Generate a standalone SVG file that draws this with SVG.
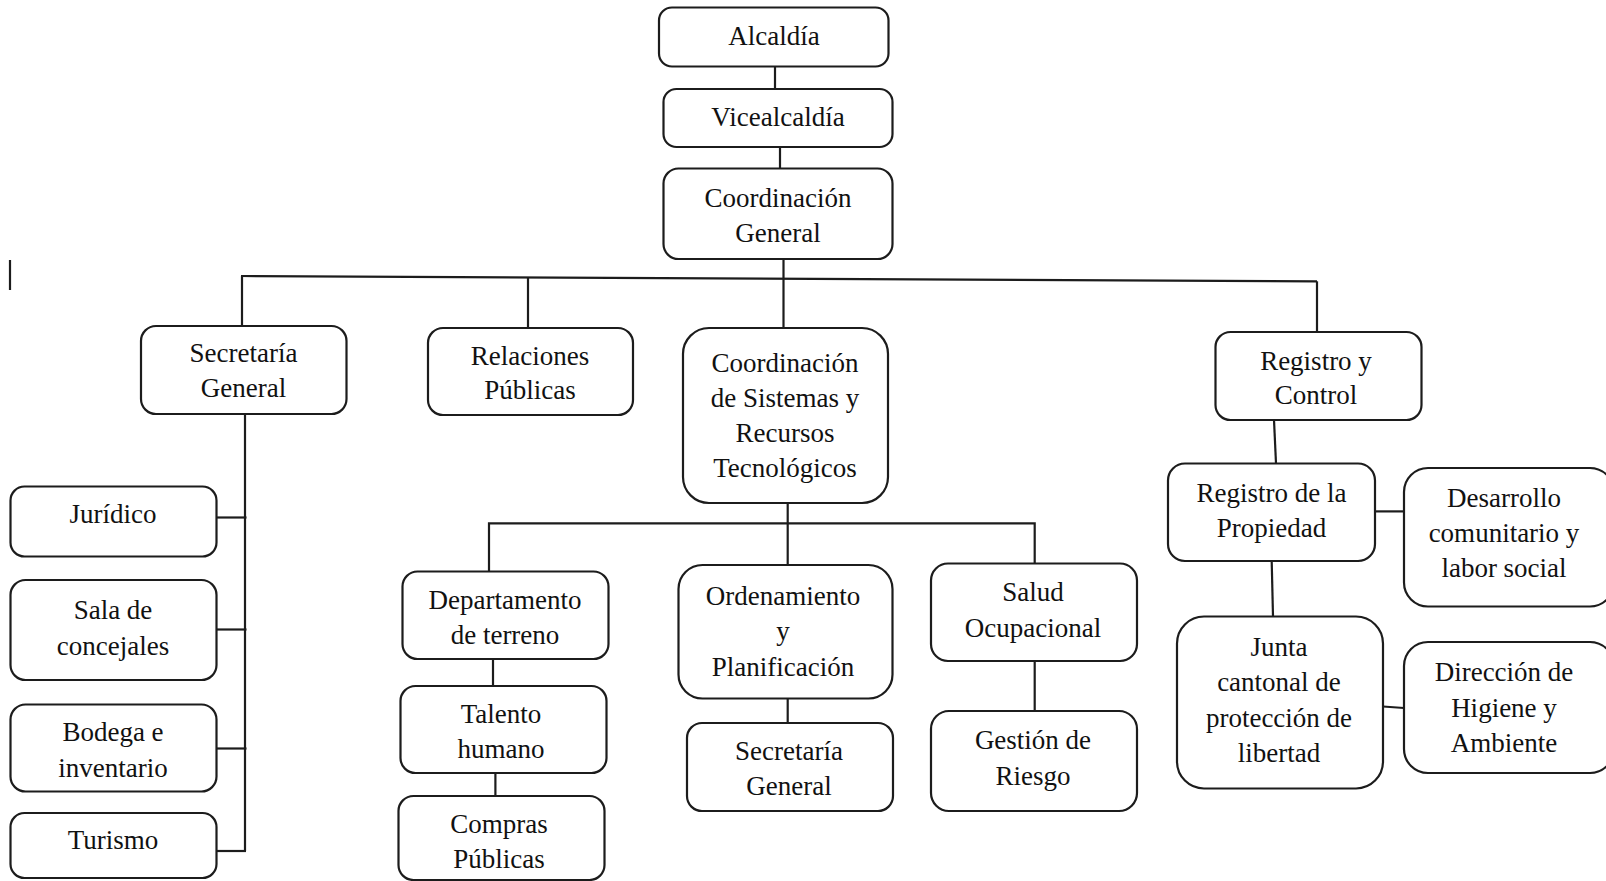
<svg xmlns="http://www.w3.org/2000/svg" width="1606" height="881" viewBox="0 0 1606 881">
<style>
.b{fill:#fff;stroke:#1c1c1c;stroke-width:2.2}
.c{fill:none;stroke:#1c1c1c;stroke-width:2.2}
text{font-family:"Liberation Serif","Times New Roman",serif;font-size:27px;fill:#111;text-anchor:middle}
</style>
<rect width="1606" height="881" fill="#fff"/>
<g id="connectors">
<line class="c" x1="10" y1="260" x2="10" y2="290"/>
<line class="c" x1="775" y1="66" x2="775" y2="89"/>
<line class="c" x1="780" y1="147" x2="780" y2="169"/>
<line class="c" x1="783.5" y1="259" x2="783.5" y2="328"/>
<path class="c" d="M241 276 L1317 281.3"/>
<line class="c" x1="242" y1="276" x2="242" y2="326"/>
<line class="c" x1="528" y1="277.5" x2="528" y2="328"/>
<line class="c" x1="1317" y1="281.3" x2="1317" y2="332"/>
<line class="c" x1="245" y1="414" x2="245" y2="851"/>
<line class="c" x1="216" y1="517.5" x2="246.5" y2="517.5"/>
<line class="c" x1="216" y1="629.5" x2="246.5" y2="629.5"/>
<line class="c" x1="216" y1="748.5" x2="246.5" y2="748.5"/>
<line class="c" x1="216" y1="851" x2="246" y2="851"/>
<line class="c" x1="787.7" y1="502" x2="787.7" y2="565"/>
<path class="c" d="M489 571.5 V523.3 H1034.7 V563.5"/>
<line class="c" x1="493" y1="659" x2="493" y2="686"/>
<line class="c" x1="495.4" y1="773" x2="495.4" y2="796"/>
<line class="c" x1="787.7" y1="698" x2="787.7" y2="723"/>
<line class="c" x1="1034.7" y1="661" x2="1034.7" y2="711"/>
<line class="c" x1="1274" y1="420" x2="1276" y2="463.5"/>
<line class="c" x1="1375" y1="511.4" x2="1404" y2="511.4"/>
<line class="c" x1="1271.7" y1="561" x2="1273" y2="616.5"/>
<line class="c" x1="1383" y1="706.5" x2="1404" y2="708"/>
</g>
<g id="n-alcaldia"><rect class="b" x="659" y="7.5" width="229.5" height="59" rx="13"/><text x="774" y="45">Alcaldía</text></g>
<g id="n-vicealcaldia"><rect class="b" x="663.5" y="89" width="229" height="58" rx="13"/><text x="778" y="126">Vicealcaldía</text></g>
<g id="n-coordgeneral"><rect class="b" x="663.5" y="168.5" width="229" height="90.5" rx="15"/><text x="778" y="207">Coordinación</text><text x="778" y="242">General</text></g>
<g id="n-secgeneral"><rect class="b" x="141" y="326" width="205.5" height="88" rx="15"/><text x="243.5" y="362">Secretaría</text><text x="243.5" y="397">General</text></g>
<g id="n-relaciones"><rect class="b" x="428" y="328" width="205" height="87" rx="15"/><text x="530" y="365">Relaciones</text><text x="530" y="399">Públicas</text></g>
<g id="n-coordsistemas"><rect class="b" x="683" y="328" width="205" height="175" rx="26"/><text x="785" y="372">Coordinación</text><text x="785" y="407">de Sistemas y</text><text x="785" y="442">Recursos</text><text x="785" y="477">Tecnológicos</text></g>
<g id="n-registrocontrol"><rect class="b" x="1215.5" y="332" width="206" height="88" rx="15"/><text x="1316" y="370">Registro y</text><text x="1316" y="404">Control</text></g>
<g id="n-juridico"><rect class="b" x="10.5" y="486.5" width="206" height="70" rx="14"/><text x="113" y="523">Jurídico</text></g>
<g id="n-sala"><rect class="b" x="10.5" y="580" width="206" height="100" rx="15"/><text x="113" y="619">Sala de</text><text x="113" y="655">concejales</text></g>
<g id="n-bodega"><rect class="b" x="10.5" y="704.5" width="206" height="87" rx="15"/><text x="113" y="741">Bodega e</text><text x="113" y="777">inventario</text></g>
<g id="n-turismo"><rect class="b" x="10.5" y="813" width="206" height="65" rx="14"/><text x="113" y="849">Turismo</text></g>
<g id="n-departamento"><rect class="b" x="402.5" y="571.5" width="206" height="87.5" rx="15"/><text x="505" y="609">Departamento</text><text x="505" y="644">de terreno</text></g>
<g id="n-talento"><rect class="b" x="400.5" y="686" width="206" height="87" rx="15"/><text x="501" y="723">Talento</text><text x="501" y="758">humano</text></g>
<g id="n-compras"><rect class="b" x="398.5" y="796" width="206" height="84" rx="15"/><text x="499" y="833">Compras</text><text x="499" y="868">Públicas</text></g>
<g id="n-ordenamiento"><rect class="b" x="678.5" y="565" width="214" height="133.5" rx="24"/><text x="783" y="605">Ordenamiento</text><text x="783" y="640">y</text><text x="783" y="676">Planificación</text></g>
<g id="n-salud"><rect class="b" x="931" y="563.5" width="206" height="97.5" rx="17"/><text x="1033" y="601">Salud</text><text x="1033" y="637">Ocupacional</text></g>
<g id="n-secgeneral2"><rect class="b" x="687" y="723" width="206" height="88" rx="15"/><text x="789" y="760">Secretaría</text><text x="789" y="795">General</text></g>
<g id="n-gestion"><rect class="b" x="931" y="711" width="206" height="100" rx="18"/><text x="1033" y="749">Gestión de</text><text x="1033" y="785">Riesgo</text></g>
<g id="n-regpropiedad"><rect class="b" x="1168" y="463.5" width="207" height="97.5" rx="17"/><text x="1271.5" y="502">Registro de la</text><text x="1271.5" y="537">Propiedad</text></g>
<g id="n-desarrollo"><rect class="b" x="1404" y="468" width="210" height="138.5" rx="24"/><text x="1504" y="507">Desarrollo</text><text x="1504" y="542">comunitario y</text><text x="1504" y="577">labor social</text></g>
<g id="n-junta"><rect class="b" x="1177" y="616.5" width="206" height="172" rx="27"/><text x="1279" y="656">Junta</text><text x="1279" y="691">cantonal de</text><text x="1279" y="727">protección de</text><text x="1279" y="762">libertad</text></g>
<g id="n-direccion"><rect class="b" x="1404" y="642" width="210" height="131" rx="24"/><text x="1504" y="681">Dirección de</text><text x="1504" y="717">Higiene y</text><text x="1504" y="752">Ambiente</text></g>
</svg>
